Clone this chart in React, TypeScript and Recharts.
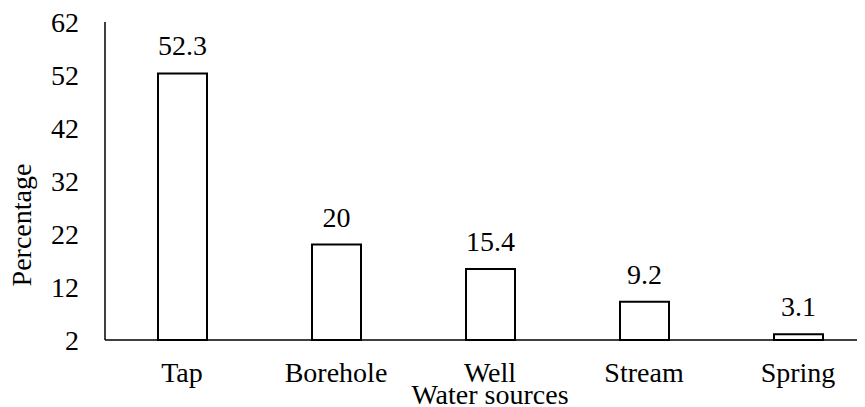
import React from "react";
import { BarChart, Bar, XAxis, YAxis, LabelList } from "recharts";

const sources = ["Tap", "Borehole", "Well", "Stream", "Spring"];
const percentages = [52.3, 20, 15.4, 9.2, 3.1];
const yTicks = [2, 12, 22, 32, 42, 52, 62];

const data = sources.map((source, i) => ({ source, value: percentages[i] }));

const font =
  "'Times New Roman', Tinos, 'Liberation Serif', 'DejaVu Serif', 'Noto Serif', serif";
const textStyle = { fontFamily: font, fontSize: 28, fill: "#000" };

const App: React.FC = () => {
  return (
    <div
      style={{
        margin: "-8px 0 0 -8px",
        width: 865,
        height: 407,
        overflow: "hidden",
        background: "#fff",
        fontFamily: font,
      }}
    >
      <BarChart
        width={880}
        height={407}
        data={data}
        margin={{ top: 22, right: 5, bottom: 0, left: 0 }}
        barSize={49}
        style={{ fontFamily: font }}
      >
        <XAxis
          dataKey="source"
          axisLine={{ stroke: "#000", strokeWidth: 1.5 }}
          tickLine={false}
          tickSize={0}
          tickMargin={22}
          tick={{ fill: "#000", fontSize: 28, style: textStyle }}
          height={67}
          label={{
            value: "Water sources",
            position: "insideBottom",
            offset: 3,
            fill: "#000",
            fontSize: 28,
            style: textStyle,
          }}
        />
        <YAxis
          type="number"
          domain={[2, 62]}
          ticks={yTicks}
          width={105}
          axisLine={{ stroke: "#000", strokeWidth: 1.5 }}
          tickLine={false}
          tickSize={0}
          tickMargin={26}
          tick={{ fill: "#000", fontSize: 28, style: textStyle }}
          label={{
            content: ({ viewBox }: any) => {
              const cx = 21;
              const cy = viewBox.y + viewBox.height / 2 + 44;
              return (
                <text
                  x={cx}
                  y={cy}
                  transform={`rotate(-90, ${cx}, ${cy})`}
                  textAnchor="middle"
                  dominantBaseline="central"
                  style={textStyle}
                >
                  Percentage
                </text>
              );
            },
          }}
        />
        <Bar
          dataKey="value"
          fill="#fff"
          stroke="#000"
          strokeWidth={2}
          isAnimationActive={false}
        >
          <LabelList
            dataKey="value"
            position="top"
            offset={18}
            fill="#000"
            fontSize={28}
            style={textStyle}
          />
        </Bar>
      </BarChart>
    </div>
  );
};

export default App;
